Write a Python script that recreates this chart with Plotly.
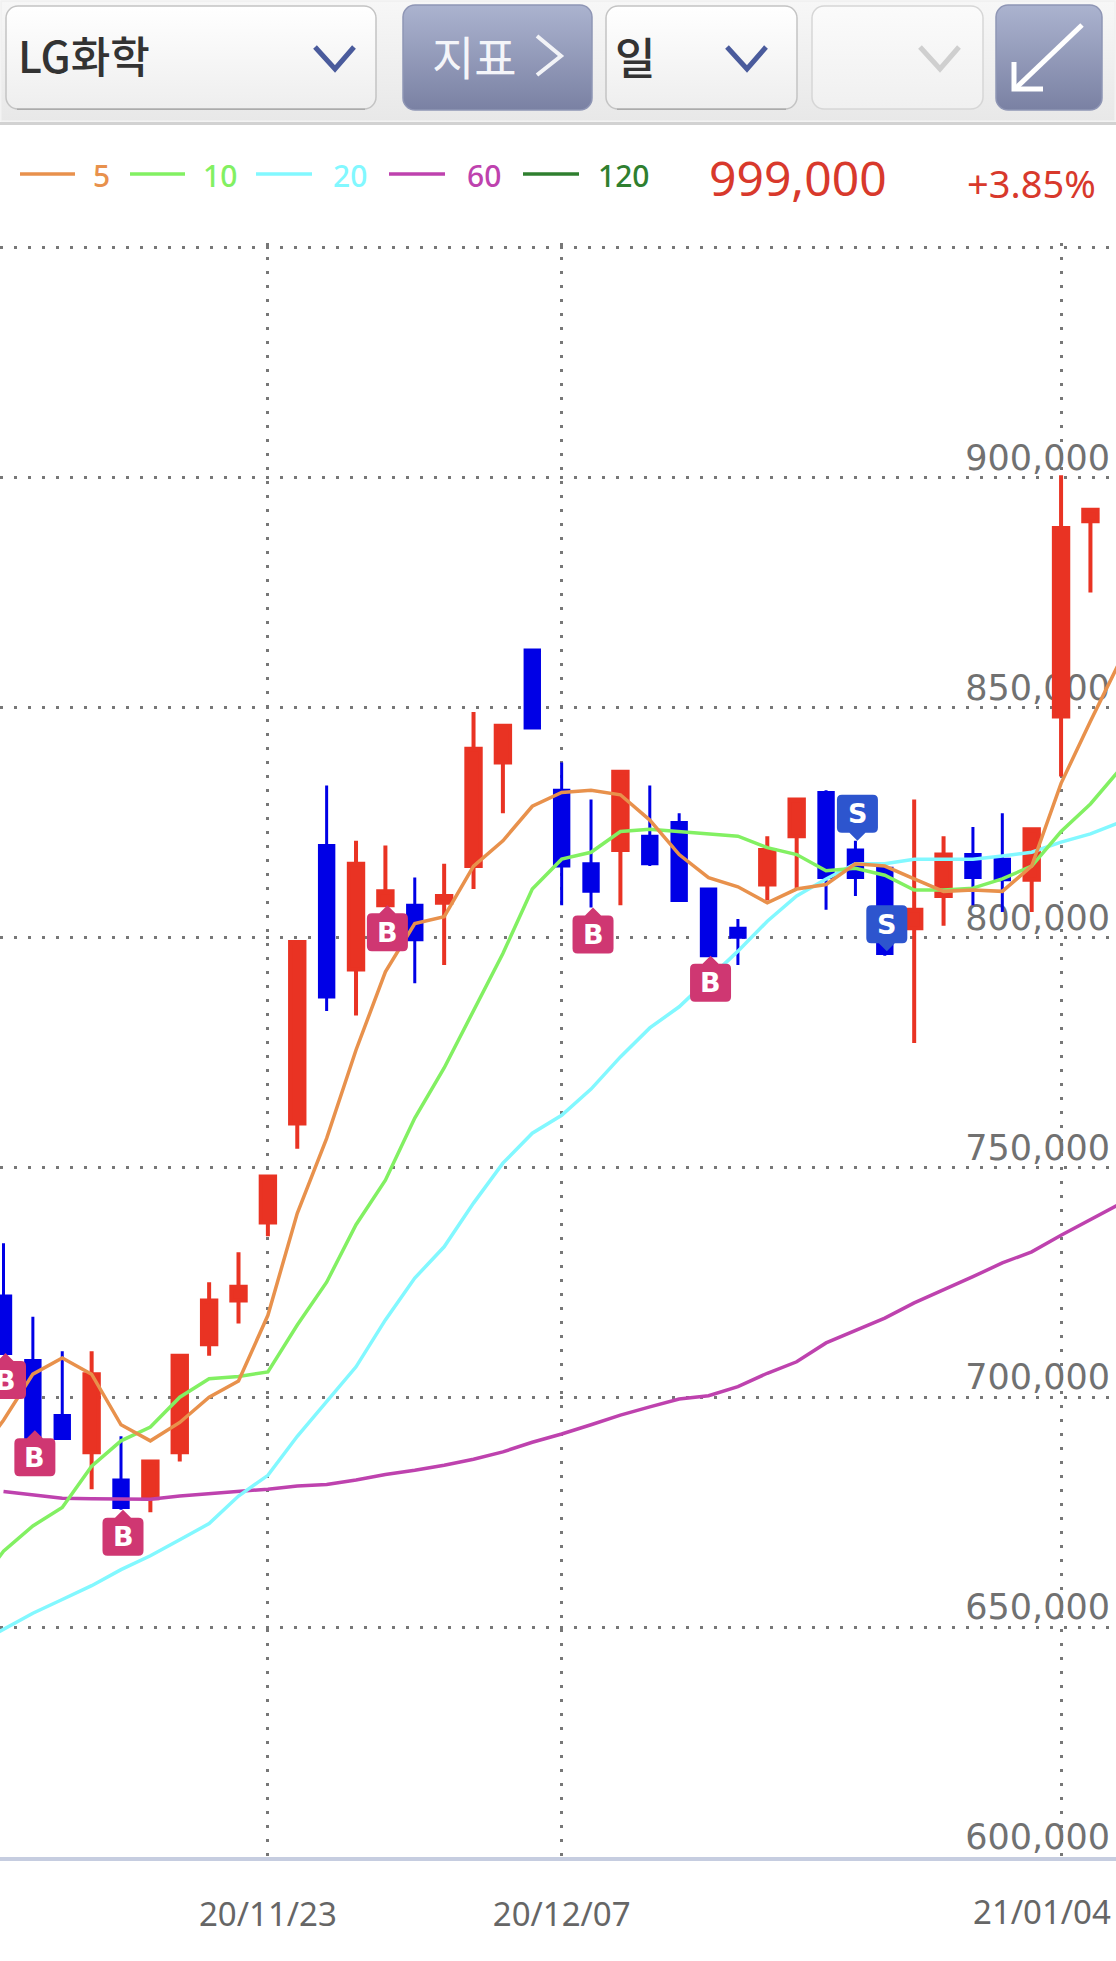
import base64
import plotly.graph_objects as go

dates = ["20/11/09","20/11/10","20/11/11","20/11/12","20/11/13","20/11/16","20/11/17","20/11/18","20/11/19","20/11/20",
         "20/11/23","20/11/24","20/11/25","20/11/26","20/11/27","20/11/30","20/12/01","20/12/02","20/12/03","20/12/04",
         "20/12/07","20/12/08","20/12/09","20/12/10","20/12/11","20/12/14","20/12/15","20/12/16","20/12/17","20/12/18",
         "20/12/21","20/12/22","20/12/23","20/12/24","20/12/28","20/12/29","20/12/30","21/01/04","21/01/05","21/01/06"]
candle_dates = dates[1:39]

opens  = [722,708,696,688,682,678,688,711.5,721,738,759.5,820,793,807,807,807.5,815.5,838,862.5,832,
          816,819,822,825,810.5,802,811.5,822,831.5,819,815,802,809,818,817,812.5,848,890.5]
highs  = [733.5,717.5,710,710,691.5,686,709,725,731.5,748,799,833,821,820,813,816,849,846,862.5,838,
          830,836,833,827,810.5,804,822,830,832,821,816,830,822,824,827,823.5,900.5,893]
lows   = [709.5,691,691,680,675.5,675,686,709,716,735,754,784,783,807,790,794,810.5,827,845.5,807,
          806.5,807,815.5,808,796,794,808,810.5,806,809,796,777,802.5,807,805.5,805.5,835,875]
closes = [709.5,691,691,705,676,686,709,721,724,748,799,787,816,810,799.5,809,841,846,845.5,815.5,
          810,836,816,808,796,800,819,830,813,813,796.5,806,818,813,812.5,823.5,889,893]

ma5  = [686,695,705,708.5,705,694,690.5,694.5,700,703.5,717.8,740,756.3,775.5,792.5,803,804.5,815.5,821,828.5,831.5,
        832,831,825.5,818,813,811,807.5,810.5,811.5,816,815.5,812.7,810,810.3,810,815.5,833.5,847,860]
ma10 = [658,666.5,672,676,685,690.5,693.5,700,704,704.5,705.5,715.7,725,737.5,747.2,760.7,771.6,784,796.5,810.5,817,
        818.5,823,823.5,823,822.5,822,819.5,818,814.5,815,813.5,810.3,810.3,810.7,812.7,815.5,823,829,836.5]
ma20 = [646,649.5,653,656,659,662.5,665.5,669,672.5,678.5,683,691.5,699,706.6,716.8,725.9,732.7,742.2,750.9,757.4,761.3,
        767,774,780.3,784.9,791,797,803.5,809,812.7,816,816,817,817,817,817.7,818.5,820.7,822.5,825]
ma60 = [None,679.5,678.7,678,677.9,677.8,677.8,678.5,679,679.5,680,680.7,681,682,683.2,684.1,685.2,686.5,688.1,690.2,692,
        694,696.1,697.9,699.6,700.3,702.3,705.2,707.7,711.8,714.6,717.2,720.5,723.3,726.2,729.2,731.6,735.2,738.5,742]

buy_dates  = ["20/11/10","20/11/11","20/11/16","20/11/27","20/12/08","20/12/14"]
buy_tips   = [709.6,692.8,675.5,807,806.5,796]
sell_dates = ["20/12/21","20/12/22"]
sell_tips  = [821,797]

y_ticks = [600,650,700,750,800,850,900,950]
y_labels = ["600,000","650,000","700,000","750,000","800,000","850,000","900,000"," "]
x_ticks = ["20/11/23","20/12/07","21/01/04"]
x_labels = ["20/11/23","20/12/07"," "]

ma_names  = ["5","10","20","60","120"]
ma_colors = ["#E8914C","#82F062","#82F8FF","#BE42AE","#2F7F2F"]

W, H = 1116, 1961
def X(p): return p / W
def Y(p): return 1 - p / H
k = lambda v: [None if a is None else a * 1000 for a in v]

fig = go.Figure()
fig.add_trace(go.Candlestick(
    x=candle_dates, open=k(opens), high=k(highs), low=k(lows), close=k(closes),
    whiskerwidth=0,
    increasing=dict(line=dict(color="#E93323", width=4), fillcolor="#E93323"),
    decreasing=dict(line=dict(color="#0000E6", width=3), fillcolor="#0000E6"),
    showlegend=False, name="LG화학"))
for name, col, vals in [("60", ma_colors[3], ma60), ("20", ma_colors[2], ma20), ("10", ma_colors[1], ma10), ("5", ma_colors[0], ma5)]:
    fig.add_trace(go.Scatter(x=dates, y=k(vals), mode="lines", name=name, showlegend=False,
                             line=dict(color=col, width=3.5)))

shapes, annotations, images = [], [], []

def svg_box(x0, y0, x1, y1, c0, c1, border, r, bottom=None):
    w, h = x1 - x0, y1 - y0
    extra = ""
    if bottom:
        extra = f'<path d="M{r} {h-0.8}H{w-r}" stroke="{bottom}" stroke-width="1.6" fill="none"/>'
    svg = (f'<svg xmlns="http://www.w3.org/2000/svg" width="{w}" height="{h}" viewBox="0 0 {w} {h}">'
           f'<defs><linearGradient id="g" x1="0" y1="0" x2="0" y2="1"><stop offset="0" stop-color="{c0}"/>'
           f'<stop offset="1" stop-color="{c1}"/></linearGradient></defs>'
           f'<rect x="1" y="1" width="{w-2}" height="{h-2}" rx="{r}" ry="{r}" fill="url(#g)" stroke="{border}" stroke-width="1.5"/>'
           f'{extra}</svg>')
    src = "data:image/svg+xml;base64," + base64.b64encode(svg.encode()).decode()
    images.append(dict(source=src, xref="paper", yref="paper", x=X(x0), y=Y(y0),
                       sizex=w / W, sizey=h / H, xanchor="left", yanchor="top",
                       sizing="stretch", layer="above"))

shapes.append(dict(type="rect", xref="paper", yref="paper", x0=0, x1=1, y0=Y(125), y1=Y(122),
                   fillcolor="#D2D2D2", line_width=0, layer="above"))
svg_box(0, 0, W, 122, "#F7F7F7", "#E8E8E8", "#F0F0F0", 0)
svg_box(5, 5, 377, 110, "#FFFFFF", "#EEEEEE", "#C4C4C4", 12, "#ABABAB")
svg_box(402, 4, 593, 111, "#ABB3CF", "#7A81A3", "#8F96B5", 12)
svg_box(605, 5, 798, 110, "#FFFFFF", "#EEEEEE", "#C4C4C4", 12, "#ABABAB")
svg_box(811, 5, 984, 110, "#FBFBFB", "#F0F0F0", "#D6D6D6", 12)
svg_box(995, 4, 1103, 111, "#ABB3CF", "#7A81A3", "#8F96B5", 12)

def polyline(points, color, width):
    d = "M" + " L".join(f"{X(a):.5f},{Y(b):.5f}" for a, b in points)
    shapes.append(dict(type="path", path=d, xref="paper", yref="paper",
                       line=dict(color=color, width=width), fillcolor="rgba(0,0,0,0)", layer="above"))

for x0, col in [(315, "#4A5B9C"), (727, "#4A5B9C"), (920, "#CFCFCF")]:
    polyline([(x0, 47), (x0 + 20, 69), (x0 + 39, 47)], col, 5)
polyline([(537, 36), (561, 56), (537, 75)], "#F2F3F7", 4)
polyline([(1082, 25), (1016, 88)], "#FFFFFF", 5)
polyline([(1014, 62), (1014, 89), (1043, 89)], "#FFFFFF", 5)

def text(s, x, y, size, color, anchor="left", family="Noto Sans", weight=None):
    f = dict(size=size, color=color, family=family)
    if weight: f["weight"] = weight
    annotations.append(dict(text=s, x=X(x), y=Y(y), xref="paper", yref="paper", showarrow=False,
                            xanchor=anchor, yanchor="middle", font=f, borderpad=0))

CJK = "Noto Sans CJK KR"
text("LG화학", 17, 54, 43, "#333333", family=CJK, weight=500)
text("지표", 431, 55, 46, "#F4F5F9", family=CJK)
text("일", 635, 56, 44, "#333333", "center", family=CJK, weight=500)

leg = [(20, 75, 101), (130, 185, 220), (256, 312, 350), (389, 445, 484), (523, 579, 624)]
for (a, b, c), name, col in zip(leg, ma_names, ma_colors):
    polyline([(a, 174), (b, 174)], col, 3.5)
    text(name, c, 175, 30, col, "center", weight=500)
text("999,000", 798, 177, 48, "#D8392C", "center")
text("+3.85%", 1031, 183, 38, "#D8392C", "center")
text("21/01/04", 1042, 1911, 33, "#666666", "center")

def badge(dirn):
    dx, hw, n, h, r = 2, 20.5, 8, 38, 5
    L, R = dx - hw, dx + hw
    s = dirn
    a, b = s * n, s * (n + h)
    return (f"M{dx},0 L{dx+8},{a} L{R-r},{a} Q{R},{a} {R},{a+s*r} L{R},{b-s*r} Q{R},{b} {R-r},{b} "
            f"L{L+r},{b} Q{L},{b} {L},{b-s*r} L{L},{a+s*r} Q{L},{a} {L+r},{a} L{dx-8},{a} Z")

for dset, tips, dirn, color, letter in [(buy_dates, buy_tips, -1, "#CF3772", "B"), (sell_dates, sell_tips, 1, "#2D55CE", "S")]:
    for d, t in zip(dset, tips):
        shapes.append(dict(type="path", xref="x", yref="y", xsizemode="pixel", ysizemode="pixel",
                           xanchor=d, yanchor=t * 1000, path=badge(dirn),
                           fillcolor=color, line_width=0, layer="above"))
        annotations.append(dict(text=f"<b>{letter}</b>", x=d, y=t * 1000, xref="x", yref="y", showarrow=False,
                                xshift=2, yshift=dirn * 27, font=dict(size=27, color="#FFFFFF", family="DejaVu Sans")))

# 950,000 gridline sits at the very top of the chart, so the range runs 1,000 past it
TOP_PAD_PX = 4.6
fig.update_layout(
    width=W, height=H, autosize=False, margin=dict(l=0, r=0, t=0, b=0, autoexpand=False),
    paper_bgcolor="#FFFFFF", plot_bgcolor="#FFFFFF", showlegend=False, dragmode=False,
    boxgap=0.3, shapes=shapes, annotations=annotations, images=images,
    xaxis=dict(domain=[0, 1], type="category", categoryorder="array", categoryarray=dates,
               range=[0.881, 38.87], rangeslider=dict(visible=False),
               tickmode="array", tickvals=x_ticks, ticktext=x_labels, ticks="",
               showgrid=True, gridcolor="#777777", gridwidth=3, griddash="3px,11px",
               showline=True, linecolor="#C6CDE0", linewidth=4, zeroline=False,
               ticklabelstandoff=25, tickfont=dict(family="Noto Sans", size=33, color="#666666")),
    yaxis=dict(domain=[1 - 1857 / H, 1 - (247.6 - TOP_PAD_PX) / H], range=[600000, 951000], side="right",
               tickmode="array", tickvals=[v * 1000 for v in y_ticks], ticktext=y_labels,
               ticklabelposition="inside", ticks="", ticklabelshift=-20, ticklabelstandoff=3,
               ticklabeloverflow="allow", layer="below traces",
               showgrid=True, gridcolor="#777777", gridwidth=3, griddash="3px,11px",
               showline=False, zeroline=False,
               tickfont=dict(family="DejaVu Sans", size=35, color="#717171")),
)

fig.write_html("out.html", config=dict(displayModeBar=False, staticPlot=True),
               post_script="document.body.style.margin='0';document.body.style.overflow='hidden';")
